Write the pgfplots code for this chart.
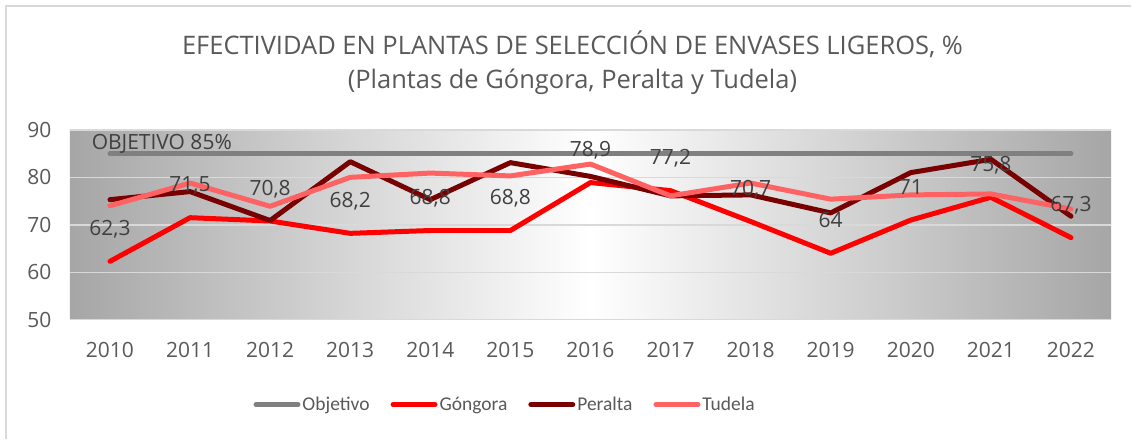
\documentclass[border=0pt]{standalone}
\usepackage{fontspec}
\setmainfont{Open Sans}
\newfontfamily\legfont{Carlito}
\usepackage{pgfplots}
\usepackage{pgfplotstable}
\pgfplotsset{compat=1.18}
\definecolor{objc}{HTML}{808080}
\definecolor{gonc}{HTML}{FF0000}
\definecolor{perc}{HTML}{780000}
\definecolor{tudc}{HTML}{FF6262}
\definecolor{txt}{HTML}{595959}
\definecolor{lbl}{HTML}{404040}
\definecolor{bgg}{HTML}{A6A6A6}
\definecolor{grd}{HTML}{D9D9D9}
\pgfplotstableread{
x    obj  gon  per  tud
2010 85   62.3 75.3 74.0
2011 85   71.5 77.0 78.8
2012 85   70.8 70.9 73.9
2013 85   68.2 83.3 80.0
2014 85   68.8 75.3 80.9
2015 85   68.8 83.1 80.3
2016 85   78.9 80.2 82.8
2017 85   77.2 76.1 76.1
2018 85   70.7 76.3 78.8
2019 85   64   72.5 75.4
2020 85   71   81.0 76.3
2021 85   75.8 83.8 76.5
2022 85   67.3 71.8 73.3
}\datatable
\begin{document}
\begin{tikzpicture}[x=1pt,y=1pt]
\path (0,0) rectangle (1132,439);
\draw[color=grd, line width=2pt] (6,0) -- (6,433) -- (1132,433);
\node[font=\fontsize{25.5}{34}\selectfont, text=txt, align=center] at (573,376) {EFECTIVIDAD EN PLANTAS DE SELECCIÓN DE ENVASES LIGEROS, \%\\(Plantas de Góngora, Peralta y Tudela)};
\begin{axis}[
  at={(70pt,119pt)}, anchor=south west,
  scale only axis, width=1042pt, height=190pt,
  xmin=2009.5, xmax=2022.5, ymin=50, ymax=90,
  xtick={2010,2011,...,2022}, ytick={50,60,...,90},
  /pgf/number format/.cd, use comma, 1000 sep={}, assume math mode=true, /pgfplots/.cd,
  axis line style={draw=none},
  major tick length=0pt,
  ymajorgrids, major grid style={draw=grd, line width=1.5pt},
  axis background/.style={shade, left color=bgg, right color=bgg, middle color=white},
  tick label style={font=\fontsize{21}{24}\selectfont, text=txt},
  x tick label style={yshift=-19pt},
  y tick label style={xshift=-15pt},
  legend style={at={(0.418,-0.447)}, anchor=center, draw=none, fill=none,
    legend columns=4, font=\legfont\fontsize{19.5}{22}\selectfont, text=txt,
    /tikz/every even column/.append style={column sep=19pt},
    nodes={inner sep=2pt}},
  legend image code/.code={\draw[#1, line cap=round] (0pt,0pt) -- (42pt,0pt);},
  every axis plot/.append style={line width=5pt, line join=round, line cap=round, mark=none},
  clip=false,
]
\addplot[color=objc] table[x=x, y=obj] {\datatable};
\addlegendentry{Objetivo}
\addplot[color=gonc,
  nodes near coords={\pgfmathprintnumber[use comma, assume math mode=true]{\pgfplotspointmeta}},
  every node near coord/.append style={anchor=base, yshift=26pt, font=\fontsize{21}{24}\selectfont, text=lbl}]
  table[x=x, y=gon] {\datatable};
\addlegendentry{Góngora}
\addplot[color=perc] table[x=x, y=per] {\datatable};
\addlegendentry{Peralta}
\addplot[color=tudc] table[x=x, y=tud] {\datatable};
\addlegendentry{Tudela}
\node[anchor=base west, inner sep=0pt, font=\fontsize{21}{24}\selectfont, text=lbl] at (axis cs:2009.77,85) [yshift=4pt] {OBJETIVO 85\%};
\end{axis}
\end{tikzpicture}
\end{document}
